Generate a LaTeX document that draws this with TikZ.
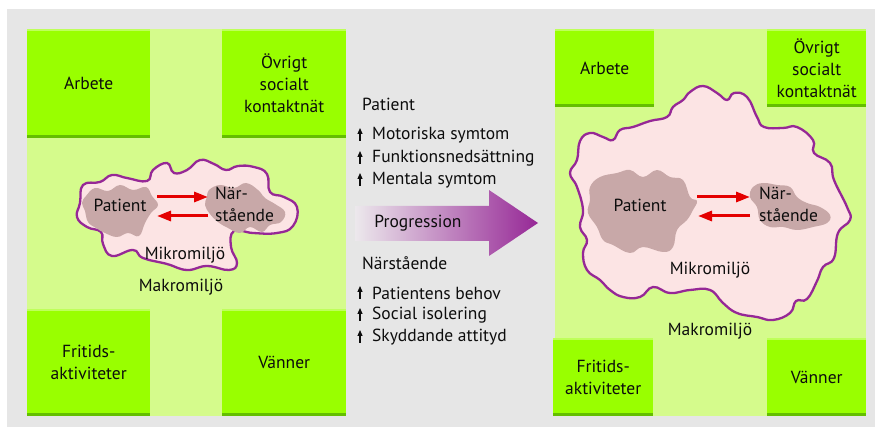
\documentclass[tikz,border=0pt]{standalone}
\usepackage{fontspec}
\setmainfont{PT Sans}
\usetikzlibrary{arrows.meta}
\definecolor{bggray}{RGB}{230,230,230}
\definecolor{lightgreen}{RGB}{213,251,140}
\definecolor{boxgreen}{RGB}{153,255,0}
\definecolor{boxtop}{RGB}{190,255,90}
\definecolor{boxbottom}{RGB}{100,190,0}
\definecolor{cloudline}{RGB}{150,40,150}
\definecolor{cloudfill}{RGB}{252,228,228}
\definecolor{blobfill}{RGB}{200,168,168}
\definecolor{arrred}{RGB}{228,0,0}
\definecolor{progstart}{RGB}{236,232,236}
\definecolor{progend}{RGB}{150,40,150}
\tikzset{
  lbl/.style={font=\fontsize{17.5}{22}\selectfont, align=center, inner sep=0pt, text=black!95},
  gbox/.style={fill=boxgreen, anchor=north west, inner sep=0pt, font=\fontsize{17.5}{22}\selectfont, align=center, text=black!95},
  cloudbd/.style={draw=cloudline, line width=2.3pt, fill=cloudfill},
  blob/.style={fill=blobfill, draw=none},
  redarr/.style={draw=arrred, line width=3pt, -{Triangle[length=14pt,width=10pt]}},
  upar/.style={line width=1.2pt, -{Triangle[length=6pt,width=5pt]}, black!95},
  listtxt/.style={font=\fontsize{17.5}{22}\selectfont, anchor=west, inner sep=0pt, text=black!95},
}
\newcommand{\boxstrips}[1]{%
  \fill[boxtop] (#1.north west) rectangle ([yshift=-2pt]#1.north east);
  \fill[boxbottom] (#1.south west) rectangle ([yshift=3.5pt]#1.south east);}
\begin{document}
\begin{tikzpicture}[x=1pt,y=-1pt]
\useasboundingbox (0,0) rectangle (875,427);
\fill[bggray] (7,9) rectangle (875,427);
% ---------------- left panel ----------------
\fill[lightgreen] (27,29) rectangle (346,416);
\node[gbox, minimum width=123pt, minimum height=109pt] (arbL) at (27,29) {Arbete};
\node[gbox, minimum width=124pt, minimum height=109pt] (ovrL) at (222,29) {Övrigt\\socialt\\kontaktnät};
\node[gbox, minimum width=123pt, minimum height=107pt] (friL) at (27,309) {Fritids-\\aktiviteter};
\node[gbox, minimum width=124pt, minimum height=107pt] (vanL) at (222,309) {Vänner};
\boxstrips{arbL}\boxstrips{ovrL}\boxstrips{friL}\boxstrips{vanL}
\draw[cloudbd] plot[smooth cycle, tension=0.75] coordinates {
 (80,203) (83,185) (100,182) (112,175) (127,178) (147,181) (153,170) (167,163)
 (174,173) (187,170) (200,160) (214,164) (226,170) (238,166) (254,167) (267,174)
 (270,192) (284,197) (297,207) (293,226) (277,233) (253,233) (234,231) (231,247)
 (237,263) (229,270) (207,266) (187,270) (167,264) (143,258) (133,250) (112,256)
 (103,244) (101,232) (87,227) (77,217)};
\draw[blob] plot[smooth cycle, tension=0.7] coordinates {
 (86,196) (95,188) (108,191) (120,185) (133,190) (146,187) (152,196) (158,205)
 (151,213) (145,223) (139,236) (128,233) (117,237) (105,233) (96,228) (88,222)
 (85,211) (82,203)};
\draw[blob] plot[smooth cycle, tension=0.7] coordinates {
 (209,190) (220,185) (234,188) (246,183) (258,190) (265,198) (275,204) (285,212)
 (281,222) (270,225) (262,232) (250,227) (240,233) (228,228) (218,222) (210,214)
 (205,205) (207,197)};
\node[lbl] (patL) at (120,205) {Patient};
\node[lbl, align=left, anchor=west] (narL) at (215,204) {När-\\stående};
\coordinate (pL1) at (157,197); \coordinate (nL1) at (208,197);
\coordinate (pL2) at (157,216); \coordinate (nL2) at (208,216);
\draw[redarr] (pL1) -- (nL1);
\draw[redarr] (nL2) -- (pL2);
\node[lbl] (mikL) at (185,255) {Mikromiljö};
\node[lbl] (makL) at (181,287) {Makromiljö};
% ---------------- middle ----------------
\node[listtxt] (hpat) at (362,104) {Patient};
\node[listtxt] (p1) at (372,135) {Motoriska symtom};
\node[listtxt] (p2) at (372,158) {Funktionsnedsättning};
\node[listtxt] (p3) at (372,180) {Mentala symtom};
\node[listtxt] (hnar) at (362,263) {Närstående};
\node[listtxt] (n1) at (372,293) {Patientens behov};
\node[listtxt] (n2) at (372,315) {Social isolering};
\node[listtxt] (n3) at (372,337) {Skyddande attityd};
\foreach \t in {p1,p2,p3,n1,n2,n3}{
  \draw[upar] ([xshift=-12pt,yshift=-6pt]\t.west) -- ([xshift=-12pt,yshift=7pt]\t.west);
}
\shade[left color=progstart, right color=progend]
  (355,206) -- (489,206) -- (489,190) -- (538,223) -- (489,256) -- (489,241) -- (355,241) -- cycle;
\node[lbl] (prog) at (418,223) {Progression};
% ---------------- right panel ----------------
\fill[lightgreen] (555,29) rectangle (866,416);
\node[gbox, minimum width=99pt, minimum height=78pt] (arbR) at (555,29) {Arbete};
\node[gbox, minimum width=99pt, minimum height=78pt] (ovrR) at (767,29) {Övrigt\\socialt\\kontaktnät};
\node[gbox, minimum width=100pt, minimum height=78pt] (friR) at (553,338) {Fritids-\\aktiviteter};
\node[gbox, minimum width=99pt, minimum height=78pt] (vanR) at (767,338) {Vänner};
\boxstrips{arbR}\boxstrips{ovrR}\boxstrips{friR}\boxstrips{vanR}
\draw[cloudbd] plot[smooth cycle, tension=0.75] coordinates {
 (690,92) (703,86) (717,93) (727,100) (734,93) (747,97) (757,117) (764,127)
 (783,128) (797,127) (813,140) (814,153) (830,163) (834,180) (847,207) (850,220)
 (838,233) (834,258) (823,267) (817,281) (807,299) (796,301) (790,313) (773,320)
 (757,317) (737,313) (723,303) (710,290) (690,290) (670,293) (653,287) (640,297)
 (623,297) (610,290) (600,280) (587,270) (583,253) (587,240) (580,227) (583,210)
 (577,187) (570,173) (577,160) (580,141) (590,133) (603,137) (613,140) (620,130)
 (633,127) (650,121) (667,117) (673,107) (683,100)};
\draw[blob] plot[smooth cycle, tension=0.7] coordinates {
 (590,187) (600,177) (617,173) (630,170) (643,177) (657,170) (670,177) (683,180)
 (690,197) (697,201) (693,210) (687,220) (677,230) (673,247) (663,252) (643,247)
 (630,253) (613,245) (603,240) (597,227) (588,213) (590,200)};
\draw[blob] plot[smooth cycle, tension=0.7] coordinates {
 (753,187) (763,183) (777,185) (790,187) (797,197) (807,203) (820,207) (830,215)
 (827,223) (813,227) (797,230) (783,227) (770,227) (760,220) (757,207) (750,197)};
\node[lbl] (patR) at (640,205) {Patient};
\node[lbl, align=left, anchor=west] (narR) at (759,204) {När-\\stående};
\coordinate (pR1) at (697,197); \coordinate (nR1) at (750,197);
\coordinate (pR2) at (698,216); \coordinate (nR2) at (750,216);
\draw[redarr] (pR1) -- (nR1);
\draw[redarr] (nR2) -- (pR2);
\node[lbl] (mikR) at (710,270) {Mikromiljö};
\node[lbl] (makR) at (710,331) {Makromiljö};
\end{tikzpicture}
\end{document}
